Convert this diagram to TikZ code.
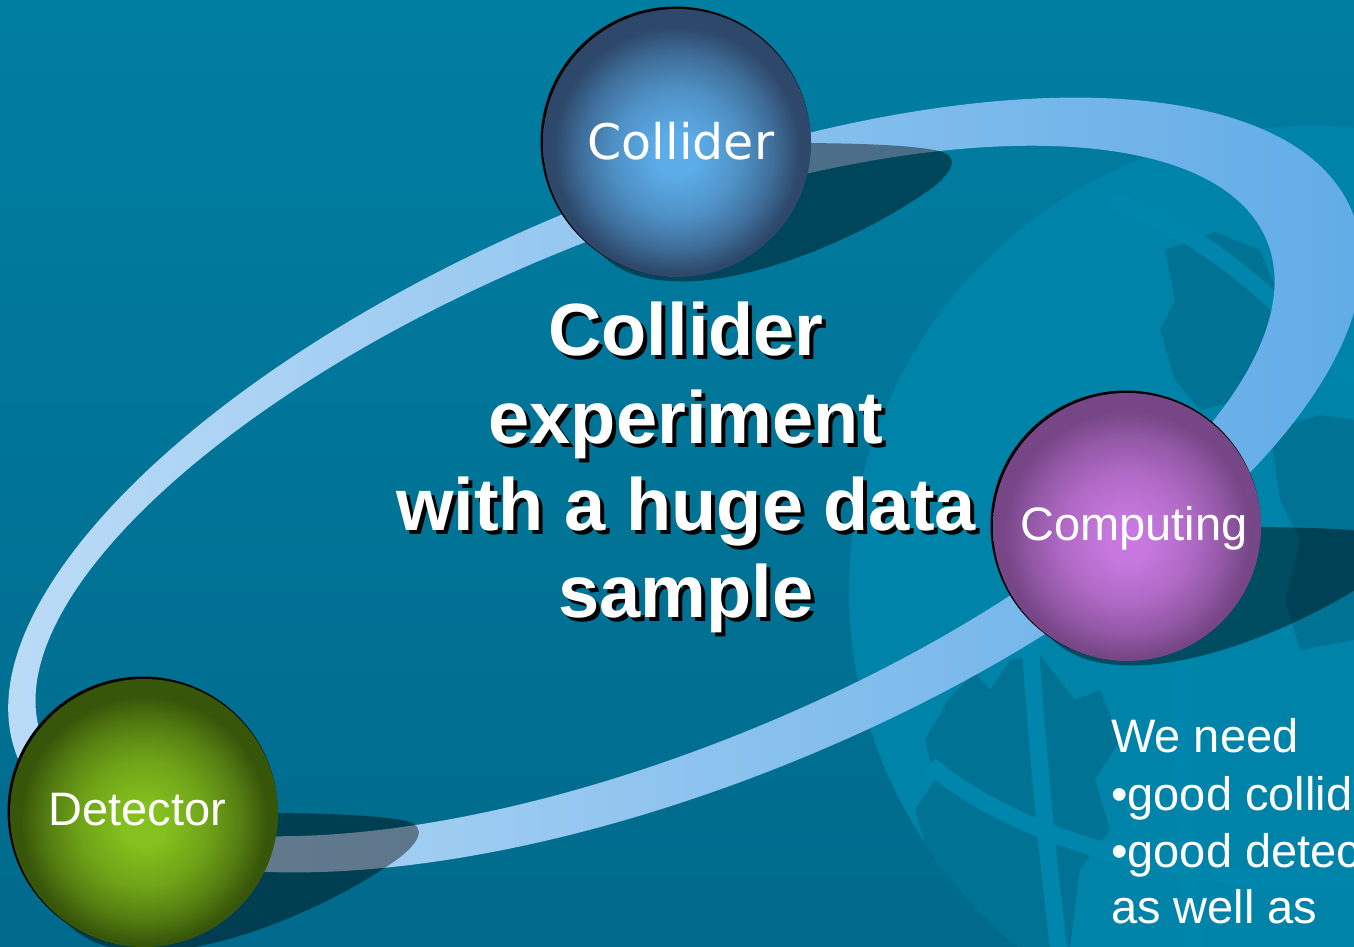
\documentclass[tikz,border=0pt]{standalone}
\usepackage{fontspec}
\setmainfont{Liberation Sans}
\newfontfamily\dejavu{DejaVu Sans}
\usetikzlibrary{calc}

% palette
\definecolor{bgtop}{RGB}{0,126,162}
\definecolor{bgbot}{RGB}{0,106,140}
\definecolor{globe}{RGB}{0,131,168}
\definecolor{land}{RGB}{0,114,147}
\definecolor{gridln}{RGB}{0,134,172}
\definecolor{ringL}{RGB}{190,221,247}
\definecolor{ringR}{RGB}{94,170,230}
\definecolor{colA}{RGB}{92,172,232}
\definecolor{colB}{RGB}{45,72,106}
\definecolor{cmpA}{RGB}{198,120,222}
\definecolor{cmpB}{RGB}{118,70,134}
\definecolor{detA}{RGB}{132,192,30}
\definecolor{detB}{RGB}{56,86,10}

% sphere shadings (the sphere edge sits at 25bp): bright core slightly below the centre, dark rim
\pgfdeclareradialshading{collidershade}{\pgfpoint{0bp}{-2.5bp}}{color(0bp)=(colA); color(4bp)=(colA); color(12bp)=(colA!72!colB); color(18bp)=(colA!38!colB); color(23bp)=(colB); color(50bp)=(colB)}
\pgfdeclareradialshading{computeshade}{\pgfpoint{0bp}{-2.5bp}}{color(0bp)=(cmpA); color(4bp)=(cmpA); color(12bp)=(cmpA!72!cmpB); color(18bp)=(cmpA!38!cmpB); color(23bp)=(cmpB); color(50bp)=(cmpB)}
\pgfdeclareradialshading{detectshade}{\pgfpoint{0bp}{-2.5bp}}{color(0bp)=(detA); color(4bp)=(detA); color(12bp)=(detA!72!detB); color(18bp)=(detA!38!detB); color(23bp)=(detB); color(50bp)=(detB)}

\tikzset{
  sphere/.style={circle, minimum size=268pt, inner sep=0pt, draw=none},
  rim/.style={fill=black},
  dropshade/.style={fill=black, fill opacity=0.42},
  balltxt/.style={text=white, anchor=base, inner sep=0pt},
  headtxt/.style={font=\fontsize{74}{88}\selectfont\bfseries, anchor=base, inner sep=0pt},
  sidetxt/.style={text=white, anchor=base west, inner sep=0pt, font=\fontsize{47}{57}\selectfont},
  gridstripe/.style={draw=gridln, line width=17pt},
}

% soft shadow cast to the lower right of a sphere centred at #1
\newcommand\ballshadow[1]{%
  \fill[dropshade] ($(#1)+(-80,107)$)
    .. controls ($(#1)+(-55,135)$) and ($(#1)+(-20,140)$) .. ($(#1)+(20,138)$)
    .. controls ($(#1)+(100,132)$) and ($(#1)+(200,85)$) .. ($(#1)+(255,45)$)
    .. controls ($(#1)+(272,32)$) and ($(#1)+(286,14)$) .. ($(#1)+(262,8)$)
    .. controls ($(#1)+(235,2)$) and ($(#1)+(180,0)$) .. ($(#1)+(110,0)$)
    -- (#1) -- cycle;}

\begin{document}
\begin{tikzpicture}[x=1pt,y=-1pt]
\useasboundingbox (0,0) rectangle (1354,947);
\clip (0,0) rectangle (1354,947);

% background
\shade[top color=bgtop, bottom color=bgbot] (0,0) rectangle (1354,947);

% faint globe watermark
\begin{scope}
  \clip (1312,589) circle (463pt);
  \fill[globe] (1312,589) circle (463pt);
  % land masses
  \fill[land] (948,700) -- (975,672) -- (990,690) -- (1010,660) -- (1040,655)
    -- (1075,700) -- (1100,690) -- (1120,740) -- (1095,780) -- (1110,830)
    -- (1080,870) -- (1070,947) -- (985,947) -- (960,900) -- (930,860)
    -- (915,810) -- (935,780) -- (925,740) -- cycle;
  \fill[land] (1165,250) -- (1215,232) -- (1260,250) -- (1280,300) -- (1270,360)
    -- (1240,400) -- (1200,410) -- (1175,380) -- (1160,330) -- (1175,300) -- cycle;
  \fill[land] (1270,430) -- (1320,415) -- (1354,420) -- (1354,640)
    -- (1300,650) -- (1285,600) -- (1300,540) -- (1280,500) -- cycle;
  % grid lines
  \draw[gridstripe] (850,735) .. controls (880,820) and (940,900) .. (1000,960);
  \draw[gridstripe] (930,765) .. controls (1020,840) and (1180,885) .. (1360,882);
  \draw[gridstripe] (1030,640) .. controls (1038,760) and (1048,860) .. (1060,960);
  \draw[gridstripe] (1185,640) .. controls (1180,760) and (1185,860) .. (1195,960);
  \draw[gridstripe] (1110,200) .. controls (1230,240) and (1300,330) .. (1354,380);
\end{scope}

% the ring, thicker on the far side
\begin{scope}[shift={(685,485)}, rotate=22.25]
  \shade[even odd rule, left color=ringL, right color=ringR]
    (0,0) ellipse [x radius=721pt, y radius=297pt]
    (-30,-5.8) ellipse [x radius=661pt, y radius=257pt];
\end{scope}

% sphere centres
\coordinate (cC) at (677,143);
\coordinate (cP) at (1127,527);
\coordinate (cD) at (144,813);

% cast shadows
\ballshadow{cC}
\ballshadow{cP}
\ballshadow{cD}

% dark rims
\fill[rim] ($(cC)+(-1.5,-1.5)$) circle (135pt);
\fill[rim] ($(cP)+(-1.5,-1.5)$) circle (135pt);
\fill[rim] ($(cD)+(-1.5,-1.5)$) circle (135pt);

% spheres
\node[sphere, shading=collidershade] (collider) at (cC) {};
\node[sphere, shading=computeshade] (computing) at (cP) {};
\node[sphere, shading=detectshade] (detector) at (cD) {};

% sphere labels
\node[balltxt, font=\dejavu\fontsize{49}{58}\selectfont] (colliderlbl) at (681,160) {Collider};
\node[balltxt, font=\fontsize{47}{56}\selectfont] (computinglbl) at (1134,540) {Computing};
\node[balltxt, font=\fontsize{47}{56}\selectfont] (detectorlbl) at (137.5,825) {Detector};

% headline with drop shadow
\foreach \txt/\yy/\nm in {Collider/355/hA, experiment/443/hB, with a huge data/530/hC, sample/617/hD}{
  \node[headtxt, text=black] (\nm s) at (690,\yy+4) {\txt};
  \node[headtxt, text=white] (\nm) at (686,\yy) {\txt};
}

% side note
\node[sidetxt] (need) at (1111,752) {We need};
\node[sidetxt] (needA) at (1111,810) {•good collider};
\node[sidetxt] (needB) at (1111,867) {•good detector};
\node[sidetxt] (needC) at (1111,923) {as well as};
\end{tikzpicture}
\end{document}
